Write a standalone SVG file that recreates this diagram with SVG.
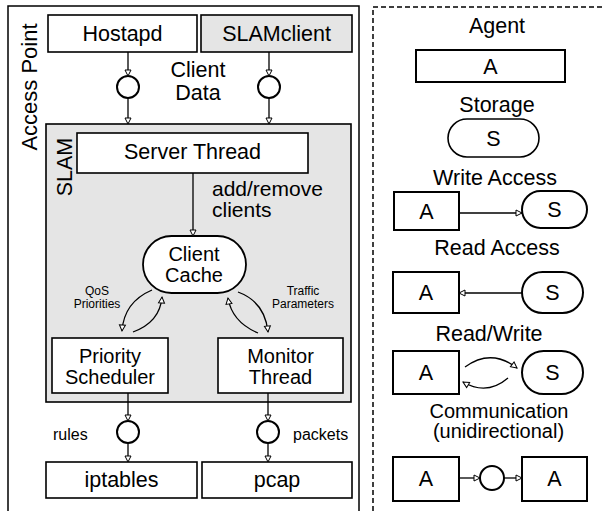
<svg xmlns="http://www.w3.org/2000/svg" width="603" height="511" viewBox="0 0 603 511">
<style>
text{font-family:"Liberation Sans",Arial,sans-serif;fill:#000}
.t{font-size:21.5px;text-anchor:middle}
.t2{font-size:20px;text-anchor:middle}
.s{font-size:12px;text-anchor:middle}
.m{font-size:16px}
.box{fill:#fff;stroke:#000;stroke-width:1.6}
.gray{fill:#e5e5e5;stroke:#000;stroke-width:1.6}
.lg{fill:#fff;stroke:#000;stroke-width:2}
.c{fill:#fff;stroke:#000;stroke-width:2}
.ln{fill:none;stroke:#000;stroke-width:1.3;marker-end:url(#ah)}
</style>
<defs>
<marker id="ah" markerWidth="9" markerHeight="9" refX="7.5" refY="4.5" orient="auto" markerUnits="userSpaceOnUse">
<path d="M1.5,1.5 L7.5,4.5 L1.5,7.5 z" fill="#fff" stroke="#000" stroke-width="1"/>
</marker>
</defs>
<rect width="603" height="511" fill="#fff"/>
<g id="access-point">
<rect x="8" y="6" width="351" height="530" fill="none" stroke="#000" stroke-width="1.5"/>
<text class="t" transform="translate(37,87) rotate(-90)" style="font-size:22px">Access Point</text>
</g>
<g id="legend-frame">
<rect x="373" y="7" width="250" height="530" fill="none" stroke="#000" stroke-width="1.5" stroke-dasharray="5,3"/>
</g>
<g id="slam">
<rect class="gray" x="46" y="124" width="305" height="278"/>
<text class="t" transform="translate(72,167) rotate(-90)">SLAM</text>
</g>
<g id="hostapd"><rect class="box" x="48" y="15" width="149" height="37"/><text class="t" x="122.5" y="41">Hostapd</text></g>
<g id="slamclient"><rect class="gray" x="201" y="15" width="151" height="37"/><text class="t" x="276.5" y="41">SLAMclient</text></g>
<g id="client-data-label"><text class="t" x="198" y="77">Client</text><text class="t" x="198" y="100">Data</text></g>
<g id="server-thread"><rect class="box" x="77" y="133" width="231" height="40"/><text class="t" x="192.5" y="159">Server Thread</text></g>
<g id="add-remove-label"><text x="212" y="196" style="font-size:21px">add/remove</text><text x="212" y="217" style="font-size:21px">clients</text></g>
<g id="client-cache"><rect class="box" x="143" y="236" width="103" height="57" rx="28.5" ry="28.5" style="stroke-width:1.8"/><text class="t2" x="194" y="261">Client</text><text class="t2" x="194" y="282">Cache</text></g>
<g id="priority-scheduler"><rect class="box" x="52" y="338" width="116" height="55"/><text class="t2" x="110" y="363">Priority</text><text class="t2" x="110" y="384">Scheduler</text></g>
<g id="monitor-thread"><rect class="box" x="218" y="338" width="125" height="55"/><text class="t2" x="280.5" y="363">Monitor</text><text class="t2" x="280.5" y="384">Thread</text></g>
<g id="iptables"><rect class="box" x="46" y="462" width="151" height="36"/><text class="t" x="121.5" y="487">iptables</text></g>
<g id="pcap"><rect class="box" x="202" y="462" width="150" height="36"/><text class="t" x="277" y="487">pcap</text></g>
<g id="chan-hostapd"><circle class="c" cx="128" cy="87" r="11"/></g>
<g id="chan-slamclient"><circle class="c" cx="269" cy="87" r="11"/></g>
<g id="chan-rules"><circle class="c" cx="128" cy="432" r="11"/><text class="m" x="53" y="440">rules</text></g>
<g id="chan-packets"><circle class="c" cx="268" cy="432" r="11"/><text class="m" x="293" y="440">packets</text></g>
<g id="qos-label"><text class="s" x="97" y="295">QoS</text><text class="s" x="97" y="308">Priorities</text></g>
<g id="traffic-label"><text class="s" x="303" y="295">Traffic</text><text class="s" x="303" y="308">Parameters</text></g>
<g id="connectors">
<line class="ln" x1="128" y1="52" x2="128" y2="76"/>
<line class="ln" x1="128" y1="98" x2="128" y2="124"/>
<line class="ln" x1="269" y1="52" x2="269" y2="76"/>
<line class="ln" x1="269" y1="98" x2="269" y2="124"/>
<line class="ln" x1="193" y1="173" x2="193" y2="236"/>
<path class="ln" d="M152,290 Q124,302 122,331"/>
<path class="ln" d="M133,332 Q160,322 162,297"/>
<path class="ln" d="M238,292 Q265,302 268,332"/>
<path class="ln" d="M258,333 Q232,322 228,298"/>
<line class="ln" x1="128" y1="393" x2="128" y2="421"/>
<line class="ln" x1="128" y1="443" x2="128" y2="462"/>
<line class="ln" x1="268" y1="393" x2="268" y2="421"/>
<line class="ln" x1="268" y1="443" x2="268" y2="462"/>
<line class="ln" x1="459" y1="213" x2="522" y2="213"/>
<line class="ln" x1="522" y1="293" x2="459" y2="293"/>
<path class="ln" d="M465,367 Q491,348 517,368"/>
<path class="ln" d="M508,378 Q487,396 463,382"/>
<line class="ln" x1="459" y1="478" x2="480" y2="478"/>
<line class="ln" x1="504" y1="478" x2="522" y2="478"/>
</g>
<g id="legend-agent"><text class="t" x="497" y="33">Agent</text><rect class="lg" x="416" y="50" width="149" height="32"/><text class="t" x="490.5" y="74">A</text></g>
<g id="legend-storage"><text class="t" x="497" y="112">Storage</text><rect class="box" x="448" y="119" width="91" height="38" rx="19" ry="19"/><text class="t" x="493.5" y="146">S</text></g>
<g id="legend-write"><text class="t" x="495" y="185">Write Access</text><rect class="lg" x="394" y="192" width="65" height="38"/><text class="t" x="426.5" y="219">A</text><rect class="lg" x="522" y="191" width="65" height="37" rx="18.5" ry="18.5"/><text class="t" x="554.5" y="217">S</text></g>
<g id="legend-read"><text class="t" x="497" y="255">Read Access</text><rect class="lg" x="393" y="272" width="66" height="41"/><text class="t" x="426" y="300">A</text><rect class="lg" x="522" y="272" width="61" height="41" rx="20.5" ry="20.5"/><text class="t" x="552.5" y="300">S</text></g>
<g id="legend-readwrite"><text class="t" x="489" y="341">Read/Write</text><rect class="lg" x="393" y="351" width="66" height="43"/><text class="t" x="426" y="380">A</text><rect class="lg" x="522" y="351" width="61" height="43" rx="21.5" ry="21.5"/><text class="t" x="552.5" y="380">S</text></g>
<g id="legend-comm"><text class="t2" x="499" y="418">Communication</text><text class="t2" x="498.5" y="438">(unidirectional)</text><rect class="lg" x="393" y="457" width="66" height="44"/><text class="t" x="426" y="486">A</text><circle class="c" cx="492" cy="478" r="12"/><rect class="lg" x="522" y="457" width="65" height="44"/><text class="t" x="554.5" y="486">A</text></g>
</svg>
